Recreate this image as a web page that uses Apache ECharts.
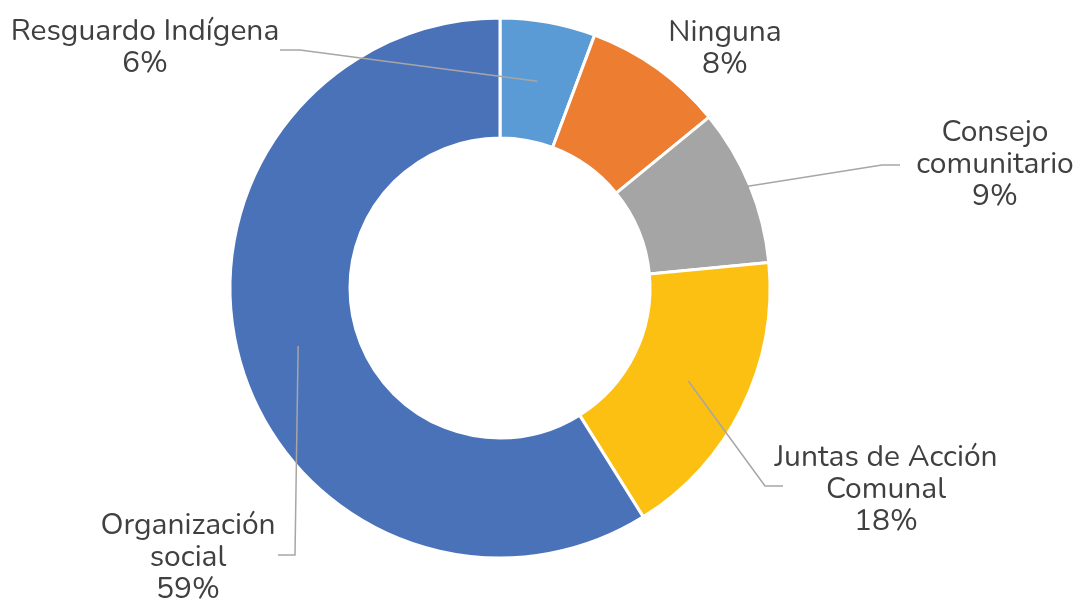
<!DOCTYPE html>
<html>
<head>
<meta charset="utf-8">
<script src="https://cdn.jsdelivr.net/npm/echarts@6/dist/echarts.min.js"></script>
<style>
html,body{margin:0;padding:0;background:#fff;}
#chart{width:1076px;height:599px;}
</style>
</head>
<body>
<div id="chart"></div>
<script>
const categories = ['Resguardo Indígena', 'Ninguna', 'Consejo\ncomunitario', 'Juntas de Acción\nComunal', 'Organización\nsocial'];
const values = [5.7, 8.4, 9.4, 17.6, 58.9];
const colors = ['#5B9BD5', '#ED7D31', '#A5A5A5', '#FCC012', '#4A72B8'];

// layout constants (positions only)
const CX = 500, CY = 288, R_IN = 150, R_OUT = 270;
const labelPos = [[145, 49], [725, 50], [995, 166], [886, 491], [188, 559]];
const lineStartR = [210, null, 268, 210, 210];
const lineElbow = [[300, 50, 280], null, [882, 165, 900], [765, 486, 783], [295, 555, 278]];

const total = values.reduce((a, b) => a + b, 0);
function midAngle(i) {
  let cum = 0;
  for (let k = 0; k < i; k++) cum += values[k];
  return (cum + values[i] / 2) / total * Math.PI * 2;
}

const baseSeries = {
  type: 'pie',
  center: [CX, CY],
  radius: [R_IN, R_OUT],
  startAngle: 90,
  clockwise: true,
  avoidLabelOverlap: false,
  silent: true
};

const chart = echarts.init(document.getElementById('chart'));
chart.setOption({
  animation: false,
  series: [
    Object.assign({}, baseSeries, {
      z: 2,
      itemStyle: { borderColor: '#fff', borderWidth: 3 },
      label: { show: false },
      labelLine: { show: false },
      data: categories.map((c, i) => ({ name: c, value: values[i], itemStyle: { color: colors[i] } }))
    }),
    Object.assign({}, baseSeries, {
      z: 5,
      itemStyle: { color: 'rgba(0,0,0,0)', borderWidth: 0 },
      label: {
        show: true,
        position: 'outside',
        formatter: p => p.name + '\n' + Math.round(p.value / total * 100) + '%',
        fontFamily: 'Nunito, "Open Sans", sans-serif',
        fontSize: 30,
        lineHeight: 32,
        color: '#404040',
        align: 'center'
      },
      labelLine: { show: true, showAbove: true, lineStyle: { color: '#A6A6A6', width: 1.5 } },
      labelLayout: function (params) {
        const i = params.dataIndex;
        const lp = labelPos[i];
        const out = { x: lp[0], y: lp[1], align: 'center', verticalAlign: 'middle' };
        if (lineStartR[i] != null) {
          const a = midAngle(i);
          const sx = CX + lineStartR[i] * Math.sin(a);
          const sy = CY - lineStartR[i] * Math.cos(a);
          const e = lineElbow[i];
          out.labelLinePoints = [[sx, sy], [e[0], e[1]], [e[2], e[1]]];
        }
        return out;
      },
      data: categories.map((c, i) => ({
        name: c,
        value: values[i],
        labelLine: { show: lineStartR[i] != null }
      }))
    })
  ]
});
</script>
</body>
</html>
